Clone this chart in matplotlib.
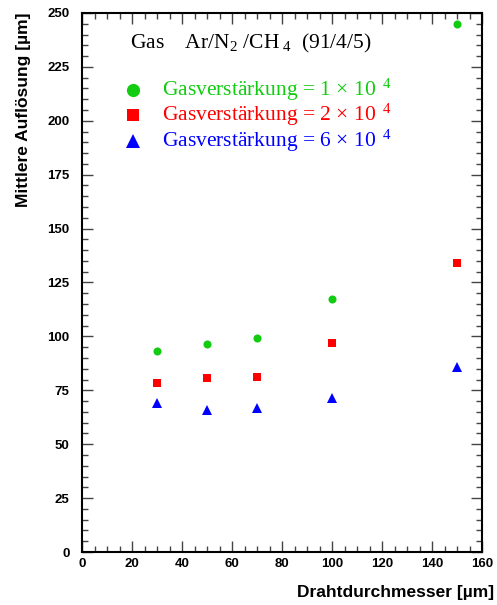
"""Mean resolution vs. wire diameter for three gas gains."""
import matplotlib
matplotlib.use("Agg")
import matplotlib.pyplot as plt
from matplotlib.ticker import MultipleLocator

plt.rcParams["font.family"] = ["Liberation Sans", "DejaVu Sans"]
plt.rcParams["mathtext.fontset"] = "custom"
plt.rcParams["mathtext.rm"] = "Liberation Serif"
plt.rcParams["mathtext.it"] = "Liberation Serif:italic"

OUTPUT_PATH = "out.png"

wire_diameter = [30, 50, 70, 100, 150]
res_gain_1e4 = [93.4, 96.6, 99.4, 117.3, 244.8]
res_gain_2e4 = [78.3, 80.5, 81.1, 96.9, 134.0]
res_gain_6e4 = [69.2, 65.8, 66.7, 71.6, 85.6]

GREEN = "#11cc11"
RED = "#ff0000"
BLUE = "#0000ff"

# (values, marker, colour, marker size, legend marker size, gain label)
series = [
    (res_gain_1e4, "o", GREEN, 5.8, 9.5, "1"),
    (res_gain_2e4, "s", RED, 5.8, 8.5, "2"),
    (res_gain_6e4, "^", BLUE, 6.8, 10.5, "6"),
]

fig = plt.figure(figsize=(4.97, 6.05), dpi=100)
ax = fig.add_axes([0.165, 0.0876, 0.805, 0.891])

for values, marker, color, size, _, _ in series:
    ax.plot(wire_diameter, values, linestyle="none", marker=marker,
            markersize=size, color=color, markeredgewidth=0)

ax.set_xlim(0, 160)
ax.set_ylim(0, 250)
ax.xaxis.set_major_locator(MultipleLocator(20))
ax.xaxis.set_minor_locator(MultipleLocator(5))
ax.yaxis.set_major_locator(MultipleLocator(25))
ax.yaxis.set_minor_locator(MultipleLocator(5))
ax.tick_params(which="both", direction="in", top=True, right=True,
               color="#444444", width=1)
ax.tick_params(which="major", length=8, labelsize=9.5, pad=4)
ax.tick_params(axis="y", which="major", pad=9)
ax.tick_params(which="minor", length=4)
for lbl in ax.get_xticklabels() + ax.get_yticklabels():
    lbl.set_fontweight("bold")
for sp in ax.spines.values():
    sp.set_linewidth(1.5)

ax.set_xlabel("Drahtdurchmesser [µm]", fontsize=12.5, fontweight="bold",
              loc="right", labelpad=11)
ax.set_ylabel("Mittlere Auflösung [µm]", fontsize=12.5, fontweight="bold",
              loc="top", labelpad=12)
ax.xaxis.label.set_x(1.03)

# header and legend drawn as text in axes coordinates
ax.text(0.12, 0.943, r"Gas    Ar/N$_2$ /CH$_{\ 4}$  (91/4/5)",
        transform=ax.transAxes, fontsize=15.5, family="Liberation Serif",
        va="center", ha="left")
row_y = [0.857, 0.81, 0.762]
for (values, marker, color, _, leg_size, gain), y in zip(series, row_y):
    ax.plot([0.127], [y], transform=ax.transAxes, linestyle="none",
            marker=marker, markersize=leg_size, color=color,
            markeredgewidth=0)
    ax.text(0.2, y, "Gasverstärkung = " + gain + r" $\times$ 10$^{\ \ 4}$",
            transform=ax.transAxes, fontsize=15.5, family="Liberation Serif",
            color=color, va="center", ha="left")

fig.savefig(OUTPUT_PATH, dpi=100)
plt.close(fig)
